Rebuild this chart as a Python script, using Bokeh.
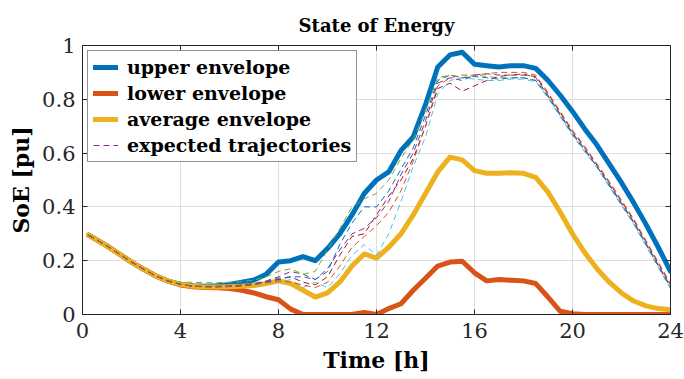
from bokeh.plotting import figure
from bokeh.models import Range1d, FixedTicker, LinearAxis, Legend, LegendItem
from bokeh.embed import file_html
from bokeh.resources import INLINE

# ---------------- data ----------------
time_h = [0.25, 1.0, 1.5, 2.0, 2.5, 3.0, 3.5, 4.0, 4.5, 5.0, 5.5, 6.0, 6.5, 7.0, 7.5, 8.0,
          8.5, 9.0, 9.5, 10.0, 10.5, 11.0, 11.5, 12.0, 12.5, 13.0, 13.5, 14.0, 14.5, 15.0, 15.5, 16.0,
          16.5, 17.0, 17.5, 18.0, 18.5, 19.0, 19.5, 20.0, 20.5, 21.0, 21.5, 22.0, 22.5, 23.0, 23.5, 24.0]

upper_env = [0.295, 0.255, 0.225, 0.195, 0.168, 0.143, 0.124, 0.112, 0.107, 0.105, 0.107, 0.112, 0.12, 0.128, 0.15, 0.195,
             0.20, 0.215, 0.20, 0.245, 0.30, 0.37, 0.45, 0.50, 0.53, 0.61, 0.66, 0.78, 0.92, 0.965, 0.975, 0.93,
             0.925, 0.92, 0.925, 0.925, 0.915, 0.87, 0.815, 0.755, 0.69, 0.63, 0.56, 0.49, 0.415, 0.335, 0.25, 0.16]

lower_env = [0.295, 0.255, 0.225, 0.195, 0.168, 0.143, 0.124, 0.11, 0.103, 0.10, 0.099, 0.097, 0.09, 0.08, 0.066, 0.055,
             0.02, 0.0, 0.0, 0.0, 0.0, 0.0, 0.008, 0.0, 0.022, 0.04, 0.09, 0.135, 0.18, 0.195, 0.198, 0.155,
             0.125, 0.13, 0.127, 0.125, 0.115, 0.065, 0.012, 0.003, 0.0, 0.0, 0.0, 0.0, 0.0, 0.0, 0.0, 0.0]

average_env = [0.295, 0.255, 0.225, 0.195, 0.168, 0.143, 0.124, 0.112, 0.105, 0.102, 0.102, 0.103, 0.105, 0.108, 0.115, 0.125,
               0.115, 0.09, 0.065, 0.08, 0.12, 0.18, 0.225, 0.21, 0.25, 0.30, 0.37, 0.45, 0.53, 0.585, 0.575, 0.535,
               0.525, 0.525, 0.527, 0.525, 0.51, 0.455, 0.38, 0.30, 0.23, 0.17, 0.12, 0.08, 0.05, 0.032, 0.022, 0.018]

traj_green = [0.295, 0.255, 0.225, 0.195, 0.168, 0.143, 0.126, 0.12, 0.12, 0.118, 0.118, 0.12, 0.122, 0.128, 0.14, 0.16,
              0.17, 0.15, 0.16, 0.24, 0.32, 0.40, 0.43, 0.45, 0.50, 0.58, 0.65, 0.76, 0.88, 0.89, 0.88, 0.89,
              0.885, 0.88, 0.88, 0.88, 0.87, 0.81, 0.74, 0.67, 0.61, 0.55, 0.48, 0.41, 0.34, 0.26, 0.18, 0.10]

traj_purple = [0.295, 0.255, 0.225, 0.195, 0.168, 0.143, 0.124, 0.112, 0.106, 0.104, 0.105, 0.106, 0.11, 0.115, 0.125, 0.14,
               0.16, 0.15, 0.13, 0.17, 0.24, 0.30, 0.32, 0.36, 0.42, 0.52, 0.60, 0.72, 0.86, 0.88, 0.87, 0.89,
               0.895, 0.89, 0.89, 0.895, 0.88, 0.815, 0.745, 0.675, 0.615, 0.55, 0.485, 0.415, 0.345, 0.265, 0.185, 0.105]

traj_cyan = [0.295, 0.255, 0.225, 0.195, 0.168, 0.143, 0.124, 0.112, 0.104, 0.102, 0.102, 0.103, 0.106, 0.11, 0.118, 0.12,
             0.13, 0.10, 0.12, 0.10, 0.15, 0.22, 0.26, 0.22, 0.30, 0.42, 0.55, 0.66, 0.82, 0.87, 0.88, 0.875,
             0.87, 0.87, 0.875, 0.875, 0.865, 0.805, 0.735, 0.665, 0.605, 0.545, 0.475, 0.405, 0.335, 0.255, 0.175, 0.095]

traj_darkred = [0.295, 0.255, 0.225, 0.195, 0.168, 0.143, 0.124, 0.112, 0.105, 0.103, 0.103, 0.104, 0.107, 0.112, 0.12, 0.13,
                0.14, 0.12, 0.11, 0.14, 0.22, 0.29, 0.30, 0.37, 0.44, 0.50, 0.58, 0.70, 0.84, 0.86, 0.83, 0.85,
                0.87, 0.885, 0.89, 0.89, 0.885, 0.82, 0.75, 0.68, 0.62, 0.555, 0.49, 0.42, 0.35, 0.27, 0.19, 0.11]

traj_orange = [0.295, 0.255, 0.225, 0.195, 0.168, 0.143, 0.124, 0.112, 0.105, 0.103, 0.103, 0.104, 0.107, 0.112, 0.118, 0.125,
               0.12, 0.11, 0.10, 0.12, 0.18, 0.25, 0.29, 0.33, 0.38, 0.46, 0.57, 0.70, 0.85, 0.88, 0.89, 0.89,
               0.895, 0.90, 0.90, 0.90, 0.89, 0.825, 0.755, 0.685, 0.625, 0.56, 0.495, 0.425, 0.355, 0.275, 0.195, 0.115]

traj_blue = [0.295, 0.255, 0.225, 0.195, 0.168, 0.143, 0.124, 0.112, 0.106, 0.104, 0.104, 0.105, 0.108, 0.113, 0.122, 0.135,
             0.14, 0.14, 0.13, 0.16, 0.26, 0.34, 0.40, 0.40, 0.46, 0.54, 0.62, 0.74, 0.87, 0.89, 0.88, 0.885,
             0.88, 0.875, 0.88, 0.88, 0.87, 0.81, 0.74, 0.67, 0.61, 0.55, 0.48, 0.41, 0.34, 0.26, 0.18, 0.10]

x_ticks = [0, 4, 8, 12, 16, 20, 24]
y_ticks = [0, 0.2, 0.4, 0.6, 0.8, 1.0]
y_tick_labels = ["0", "0.2", "0.4", "0.6", "0.8", "1"]

title_text = "State of Energy"
x_label = "Time [h]"
y_label = "SoE [pu]"
legend_labels = ["upper envelope", "lower envelope", "average envelope", "expected trajectories"]

# ---------------- styling ----------------
FONT = "'DejaVu Serif', serif"
AX = "#262626"
C_BLUE = "#0072BD"
C_ORANGE = "#D95319"
C_YELLOW = "#EDB120"
C_PURPLE = "#7E2F8E"
C_GREEN = "#77AC30"
C_CYAN = "#4DBEEE"
C_DARKRED = "#A2142F"

p = figure(width=684, height=379, output_backend="svg", toolbar_location=None,
           x_range=Range1d(0, 24), y_range=Range1d(0, 1),
           min_border_left=82, min_border_right=14, min_border_top=45, min_border_bottom=65)
p.background_fill_color = "white"
p.border_fill_color = "white"
p.outline_line_color = AX
p.outline_line_width = 1

p.title.text = title_text
p.title.align = "center"
p.title.text_font = FONT
p.title.text_font_size = "18px"
p.title.text_font_style = "bold"
p.title.text_color = "black"
p.title.offset = 0
p.title.standoff = 20

xa = p.xaxis[0]
ya = p.yaxis[0]
xa.ticker = FixedTicker(ticks=x_ticks)
ya.ticker = FixedTicker(ticks=y_ticks)
ya.major_label_overrides = {t: l for t, l in zip(y_ticks, y_tick_labels)}
for ax in (xa, ya):
    ax.axis_line_color = AX
    ax.major_tick_in = 5
    ax.major_tick_out = 0
    ax.minor_tick_line_color = None
    ax.major_tick_line_color = AX
    ax.major_label_text_font = FONT
    ax.major_label_text_font_size = "21px"
    ax.major_label_text_color = "#262626"
    ax.axis_label_text_font = FONT
    ax.axis_label_text_font_size = "22px"
    ax.axis_label_text_font_style = "bold"
    ax.axis_label_text_color = "black"
xa.axis_label = x_label
ya.axis_label = y_label
xa.major_label_standoff = 8
ya.major_label_standoff = 7
xa.axis_label_standoff = 6
ya.axis_label_standoff = 5

for loc, tk in (("right", y_ticks), ("above", x_ticks)):
    a = LinearAxis(ticker=FixedTicker(ticks=tk))
    a.axis_line_color = AX
    a.major_tick_in = 5
    a.major_tick_out = 0
    a.minor_tick_line_color = None
    a.major_tick_line_color = AX
    a.major_label_text_font_size = "0px"
    a.major_label_text_color = None
    a.major_label_standoff = 0
    p.add_layout(a, loc)

p.grid.grid_line_color = "#dedede"
p.grid.grid_line_width = 1
p.xgrid.ticker = FixedTicker(ticks=x_ticks)
p.ygrid.ticker = FixedTicker(ticks=y_ticks)

# envelopes
r_up = p.line(time_h, upper_env, line_color=C_BLUE, line_width=5, line_join="round", line_cap="round")
r_lo = p.line(time_h, lower_env, line_color=C_ORANGE, line_width=5, line_join="round", line_cap="round")
r_av = p.line(time_h, average_env, line_color=C_YELLOW, line_width=5, line_join="round", line_cap="round")

# expected trajectories
traj_list = [(traj_purple, C_PURPLE), (traj_green, C_GREEN), (traj_cyan, C_CYAN),
             (traj_darkred, C_DARKRED), (traj_blue, C_BLUE), (traj_orange, C_ORANGE)]
traj_renderers = []
for vals, col in traj_list:
    traj_renderers.append(p.line(time_h, vals, line_color=col, line_width=1, line_dash="6 4"))

legend = Legend(items=[
    LegendItem(label=legend_labels[0], renderers=[r_up]),
    LegendItem(label=legend_labels[1], renderers=[r_lo]),
    LegendItem(label=legend_labels[2], renderers=[r_av]),
    LegendItem(label=legend_labels[3], renderers=[traj_renderers[0]]),
], location="top_left")
legend.margin = 5
legend.padding = 5
legend.spacing = 4
legend.glyph_width = 25
legend.glyph_height = 20
legend.label_height = 20
legend.label_standoff = 9
legend.label_text_font = FONT
legend.label_text_font_size = "19px"
legend.label_text_font_style = "bold"
legend.label_text_color = "black"
legend.border_line_color = AX
legend.border_line_width = 1
legend.background_fill_color = "white"
legend.background_fill_alpha = 1
p.add_layout(legend, "center")

open("out.html", "w").write(file_html(p, INLINE))
